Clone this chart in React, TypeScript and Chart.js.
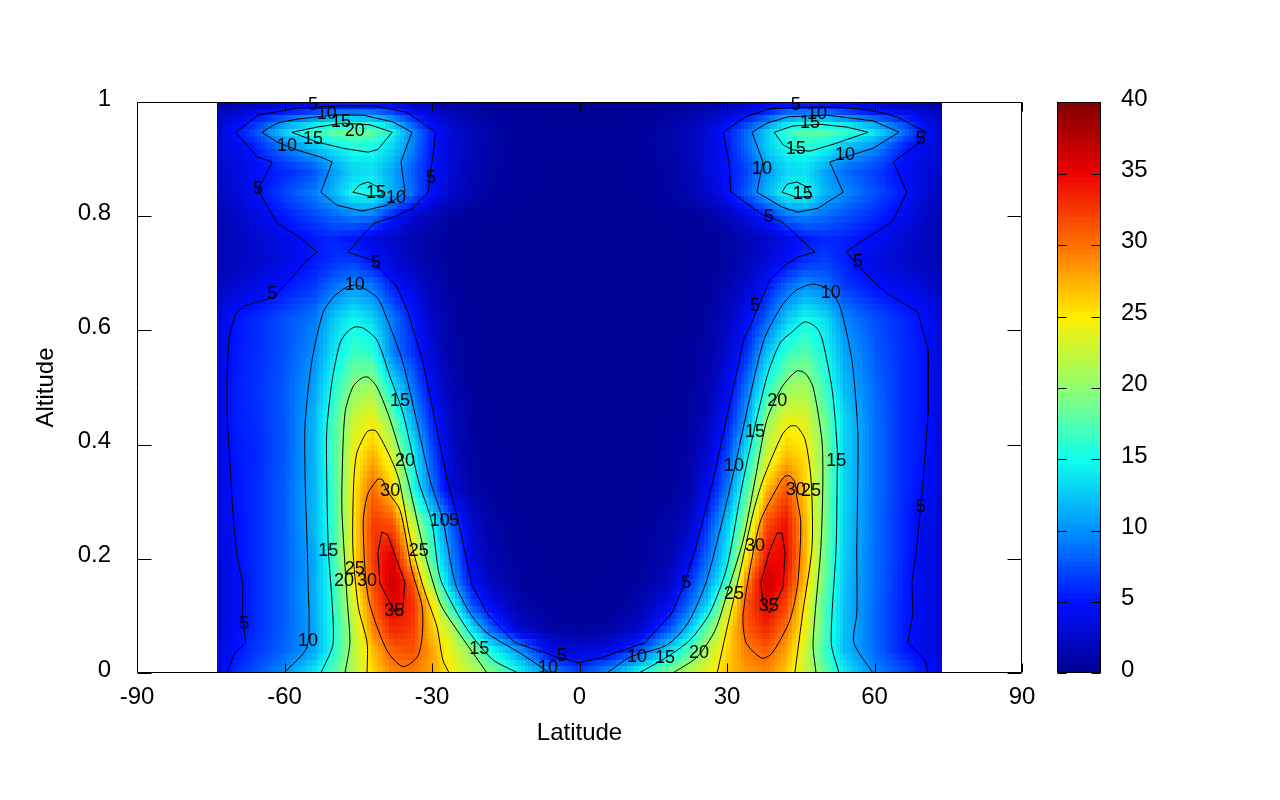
import React, { useEffect, useRef } from "react";
import { Chart, registerables } from "chart.js";

Chart.register(...registerables);

const FONT = "'Liberation Sans', Arial, sans-serif";

// Heatmap table: one row of values for each altitude, one value for each latitude
const latitudes = [-74, -70, -66, -60, -54, -50, -46, -42, -38, -34, -30, -26, -22, -18, -12, -6, 0, 6, 12, 18, 22, 26, 30, 34, 38, 42, 46, 50, 54, 60, 66, 70, 74];
const altitudes = [0, 0.04, 0.08, 0.12, 0.16, 0.2, 0.26, 0.32, 0.38, 0.44, 0.5, 0.56, 0.62, 0.68, 0.72, 0.76, 0.8, 0.84, 0.88, 0.92, 0.95, 0.98, 1];

const alt000 = [3.5, 6, 7.5, 10, 14, 17.5, 21.5, 26, 29, 29.5, 28, 24.5, 22, 19.5, 14.5, 10, 7, 10.3, 15, 19.3, 21.5, 24, 26.5, 28.5, 29, 26.5, 22.5, 18, 14, 9.8, 7.5, 5.5, 3.5];
const alt004 = [3, 5, 6.5, 8.3, 11, 15.5, 21.5, 27, 31, 31.5, 28, 23.5, 20, 15, 10, 3.8, 3, 3.8, 7, 13, 17, 21.5, 26, 29.5, 31, 28, 22.5, 16.5, 12, 8.5, 5.5, 4, 3];
const alt008 = [3, 4.5, 6, 8, 11, 15.5, 21.5, 29.5, 33.5, 32.5, 26.5, 21.5, 13.5, 7.6, 2.3, 0.8, 0.5, 0.8, 2.2, 7, 11.5, 18, 25, 31, 33.5, 30, 24, 17, 12, 8.5, 5.5, 4, 3];
const alt012 = [3, 4.3, 6, 8, 11.2, 15.8, 23, 30.5, 35.5, 33, 25.5, 15.5, 7.5, 4, 1, 0.4, 0.3, 0.4, 1, 4, 8, 12.8, 22, 31.5, 35.2, 32, 24.5, 17, 12, 8.5, 5.5, 4, 3];
const alt016 = [3, 4.3, 6, 8, 11.2, 16, 24.5, 31.5, 37, 31.5, 20, 11, 5, 2, 0.6, 0.3, 0.2, 0.3, 0.7, 2, 6, 10.3, 16, 29, 37, 34, 26.5, 18, 12.2, 8.7, 5.5, 4, 3];
const alt020 = [3, 4.8, 6, 8, 11, 16.5, 25, 32.5, 36, 26.5, 17, 9.6, 3.5, 1.3, 0.4, 0.2, 0.2, 0.2, 0.4, 1.3, 3.8, 8.5, 14, 25.5, 34.5, 35, 27, 18.3, 12.5, 8.7, 5.8, 4, 3];
const alt026 = [3, 4.9, 6, 8, 11.7, 16.5, 25, 32.5, 31.5, 22.5, 15, 8, 2.8, 1, 0.3, 0.2, 0.2, 0.2, 0.3, 1, 2, 6.5, 12.5, 20.5, 31.5, 34.5, 27, 18.8, 12.8, 8.7, 5.8, 4, 3];
const alt032 = [3, 5.2, 6, 8, 11.6, 16.6, 24.8, 30.6, 26, 15.8, 9, 3, 1, 0.5, 0.2, 0.1, 0.1, 0.1, 0.2, 0.5, 1, 4, 9, 17, 27, 31.5, 26, 18.8, 13, 8.8, 6, 4.8, 3];
const alt038 = [3.2, 5.3, 5.8, 7.8, 11.5, 17, 24.2, 27.5, 23, 15, 7.5, 2.5, 0.8, 0.4, 0.2, 0.1, 0.1, 0.1, 0.2, 0.4, 0.8, 2.8, 7, 14.2, 22.5, 27, 25.5, 19, 13, 8.8, 6, 5.1, 3];
const alt044 = [3.3, 5.5, 6, 7.8, 11.5, 17, 22.5, 24.8, 19, 11.5, 5.8, 2, 0.7, 0.3, 0.1, 0.1, 0.1, 0.1, 0.1, 0.3, 0.7, 1.8, 5.3, 10.7, 20, 24.3, 23.5, 18.5, 13, 8.8, 6, 5.2, 3.2];
const alt050 = [3.3, 5.5, 6.2, 7.8, 10.8, 15.5, 20, 20.7, 14, 9, 4.2, 1.5, 0.5, 0.2, 0.1, 0.1, 0.1, 0.1, 0.1, 0.2, 0.5, 1.3, 3.8, 8.8, 15.5, 20.3, 21, 16.5, 11.8, 8.5, 6, 5.2, 3.2];
const alt056 = [3, 5.4, 6, 7.5, 10, 13.8, 16.8, 16.2, 9.3, 6.5, 3, 1, 0.4, 0.2, 0.1, 0.1, 0.1, 0.1, 0.1, 0.2, 0.4, 1, 2.8, 6.3, 12, 16.5, 17.7, 15, 11, 8, 6, 5.2, 3];
const alt062 = [3, 5.1, 6, 7.5, 9, 12.5, 14.8, 13, 9, 5.5, 2.3, 0.8, 0.3, 0.1, 0.1, 0.1, 0.1, 0.1, 0.1, 0.1, 0.3, 0.7, 2, 4.5, 8, 12.5, 15, 13.5, 9.7, 7.5, 6, 4.8, 3];
const alt068 = [2, 2.8, 3.5, 5, 6.5, 8.5, 10, 8.8, 5.3, 3.3, 1.5, 0.6, 0.2, 0.1, 0.1, 0.1, 0.1, 0.1, 0.1, 0.1, 0.2, 0.5, 1.3, 2.5, 4.9, 8, 10, 8.8, 6.5, 4.9, 3.7, 3, 2];
const alt072 = [1.5, 2, 2.5, 3.6, 5.3, 6.3, 6.8, 5, 3.2, 2, 1, 0.4, 0.2, 0.1, 0.1, 0.1, 0.1, 0.1, 0.1, 0.1, 0.2, 0.4, 0.8, 1.8, 3.2, 4.7, 6.3, 6.8, 5.6, 3.6, 2.6, 2, 1.5];
const alt076 = [1.5, 2, 2.8, 3.8, 5.3, 5.8, 5.1, 3.6, 2.5, 1.5, 0.9, 0.5, 0.3, 0.2, 0.1, 0.1, 0.1, 0.1, 0.1, 0.2, 0.3, 0.5, 0.8, 1.5, 2.5, 3.8, 5.3, 6, 5.6, 4.5, 3, 2, 1.5];
const alt080 = [1.5, 2.3, 3.5, 5.5, 7, 8.3, 9.3, 9, 5.4, 3, 1.5, 0.8, 0.4, 0.3, 0.2, 0.1, 0.1, 0.1, 0.2, 0.3, 0.4, 0.8, 1.8, 3.5, 5.5, 8.7, 9.6, 8.5, 7.5, 6, 4, 2.5, 1.5];
const alt084 = [2, 3, 4.8, 7, 9.3, 11.7, 15, 15.3, 11.5, 8.5, 4.7, 2.5, 1.3, 0.7, 0.3, 0.2, 0.2, 0.2, 0.3, 0.7, 1.3, 2.5, 4.7, 8, 11.5, 15, 15.2, 11.5, 9.8, 7.5, 5.2, 3.2, 2];
const alt088 = [2.5, 3.2, 4.5, 5.8, 7.5, 10.5, 13, 13.5, 11, 8, 5, 3, 1.5, 0.8, 0.4, 0.2, 0.2, 0.2, 0.4, 0.8, 1.5, 3, 5, 7, 10.3, 13, 13.5, 10.8, 8.5, 6.8, 4.5, 3.2, 2.5];
const alt092 = [2.8, 4, 5.5, 9, 12, 14, 15.5, 15.2, 13, 9.5, 5.2, 3, 1.7, 1, 0.5, 0.3, 0.3, 0.3, 0.5, 1, 1.7, 3, 5.1, 8.5, 12.5, 15, 15.8, 14.8, 12, 9.9, 5.5, 4, 2.8];
const alt095 = [2.8, 5, 7.5, 13, 17, 18.5, 19, 18.5, 15, 9.8, 5.5, 3, 1.7, 1, 0.5, 0.3, 0.3, 0.3, 0.5, 1, 1.7, 3, 5.5, 8.5, 12.5, 16.5, 18, 18, 17, 14, 9, 5, 2.8];
const alt098 = [1.8, 3, 4.3, 5.8, 7.5, 9.5, 9.8, 9.5, 7.5, 4.8, 3, 1.8, 1, 0.6, 0.3, 0.2, 0.2, 0.2, 0.3, 0.6, 1, 1.8, 3, 4.5, 6, 9, 9.8, 9.5, 7.5, 5.5, 4.5, 3.2, 1.8];
const alt100 = [0.8, 1, 1.5, 2.5, 3.3, 3.6, 3.6, 3.6, 3, 2.2, 1.3, 0.8, 0.5, 0.3, 0.2, 0.1, 0.1, 0.1, 0.2, 0.3, 0.5, 0.8, 1.3, 2.2, 3, 3.6, 3.6, 3.6, 3.3, 2.5, 1.5, 1, 0.8];

const valueRows = [alt000, alt004, alt008, alt012, alt016, alt020, alt026, alt032, alt038, alt044, alt050, alt056, alt062, alt068, alt072, alt076, alt080, alt084, alt088, alt092, alt095, alt098, alt100];

// Contour polylines as [latitude, altitude]
const contour5 = [[-71.8, 0], [-70.1, 0.035], [-67.9, 0.053], [-68.5, 0.102], [-68.5, 0.158], [-69.7, 0.207], [-70.5, 0.28], [-70.9, 0.338], [-71.7, 0.455], [-71.7, 0.518], [-71.3, 0.588], [-69.9, 0.63], [-68.2, 0.643], [-62.3, 0.658], [-58.9, 0.688], [-55.8, 0.72], [-53.4, 0.737], [-56.9, 0.763], [-61.5, 0.788], [-65.4, 0.846], [-62.5, 0.895], [-65.6, 0.904], [-69.9, 0.947], [-65.4, 0.977], [-57.5, 0.989], [-49.3, 0.993], [-41.6, 0.993], [-35.1, 0.982], [-29.2, 0.947], [-30.8, 0.842], [-33.9, 0.814], [-37.9, 0.798], [-41.8, 0.788], [-47.1, 0.737], [-42.2, 0.723], [-37.1, 0.676], [-34.9, 0.632], [-31.8, 0.543], [-26.9, 0.338], [-24.7, 0.268], [-21.9, 0.154], [-18.6, 0.102], [-13.1, 0.053], [-4.6, 0.028], [-0.3, 0.018], [4.2, 0.026], [13.3, 0.053], [18.8, 0.105], [21.1, 0.151], [23.5, 0.215], [27.2, 0.338], [33.3, 0.58], [38.7, 0.688], [41.4, 0.711], [44.2, 0.728], [47.9, 0.737], [41.2, 0.79], [37.3, 0.802], [30.8, 0.842], [30.4, 0.895], [29.2, 0.947], [33.7, 0.974], [38.7, 0.988], [44.2, 0.991], [52.4, 0.991], [59.1, 0.986], [64.6, 0.974], [70.5, 0.947], [68.6, 0.925], [63.8, 0.895], [66.6, 0.842], [63.6, 0.79], [57.7, 0.758], [54.2, 0.737], [59.5, 0.688], [62.5, 0.665], [68.8, 0.632], [70.9, 0.566], [70.9, 0.455], [69.9, 0.338], [68.6, 0.221], [67.6, 0.158], [67.8, 0.105], [66.8, 0.053], [70.3, 0.023], [70.9, 0]];
const contour10Left = [[-60.1, 0], [-55.4, 0.046], [-55.2, 0.158], [-55.8, 0.338], [-55.8, 0.438], [-54.4, 0.548], [-52.2, 0.63], [-50.1, 0.658], [-47.3, 0.676], [-45.2, 0.679], [-41.2, 0.658], [-39.6, 0.63], [-35.9, 0.543], [-30.4, 0.338], [-27.8, 0.268], [-25.3, 0.158], [-22.3, 0.105], [-18.8, 0.07], [-12.1, 0.035], [-6, 0]];
const contour10Right = [[5.6, 0], [10.3, 0.028], [17.8, 0.049], [22.1, 0.088], [25.9, 0.163], [31, 0.338], [37.3, 0.578], [41.2, 0.644], [44.2, 0.671], [47.5, 0.681], [50.9, 0.671], [53, 0.641], [55.4, 0.548], [56.6, 0.425], [56.6, 0.338], [56.4, 0.221], [56.4, 0.105], [55.8, 0.053], [59.7, 0]];
const contour10TopLeft = [[-64.6, 0.947], [-61.5, 0.93], [-57.5, 0.916], [-52.8, 0.904], [-50.3, 0.895], [-52.6, 0.842], [-49.3, 0.819], [-44.2, 0.809], [-39.2, 0.819], [-35.5, 0.842], [-36.3, 0.895], [-34.1, 0.947], [-37.9, 0.965], [-44, 0.977], [-50.1, 0.977], [-57.5, 0.97], [-61.5, 0.963], [-64.6, 0.947]];
const contour10TopRight = [[35.1, 0.947], [37.3, 0.895], [36.1, 0.842], [41.2, 0.816], [44.4, 0.807], [48.5, 0.814], [53.6, 0.842], [50.9, 0.895], [59.7, 0.919], [65, 0.947], [59.7, 0.967], [50.3, 0.977], [42.4, 0.974], [38.1, 0.963], [35.1, 0.947]];
const contour15Left = [[-52.6, 0], [-50.1, 0.053], [-51.1, 0.221], [-51.4, 0.338], [-51.4, 0.425], [-50.3, 0.513], [-48.7, 0.578], [-47.3, 0.597], [-45.7, 0.606], [-44, 0.604], [-41.2, 0.583], [-38.5, 0.518], [-35.9, 0.455], [-32.8, 0.338], [-30, 0.263], [-28.4, 0.168], [-24.9, 0.105], [-21.7, 0.063], [-17.6, 0.023], [-12.5, 0]];
const contour15Right = [[12.1, 0], [17.8, 0.028], [22.5, 0.058], [26.5, 0.105], [30, 0.186], [33.3, 0.338], [38.1, 0.518], [40.8, 0.578], [43.2, 0.597], [45.9, 0.615], [48.3, 0.604], [49.5, 0.58], [51.4, 0.495], [52.4, 0.396], [52.4, 0.338], [52.2, 0.221], [51.2, 0.053], [52.8, 0]];
const contour15TopLeftA = [[-58.5, 0.947], [-53.4, 0.93], [-48.1, 0.919], [-43, 0.912], [-41, 0.917], [-38.1, 0.947], [-42.6, 0.96], [-48.1, 0.963], [-53.4, 0.956], [-58.5, 0.947]];
const contour15TopLeftB = [[-46.1, 0.842], [-44.7, 0.855], [-43, 0.86], [-41, 0.851], [-39.8, 0.837], [-42.6, 0.835], [-46.1, 0.842]];
const contour15TopRightA = [[39.6, 0.947], [41.4, 0.925], [43.4, 0.916], [46.9, 0.914], [51.6, 0.926], [58.7, 0.947], [54.4, 0.956], [48.9, 0.961], [43.4, 0.958], [39.6, 0.947]];
const contour15TopRightB = [[41.2, 0.842], [42.2, 0.856], [44.2, 0.86], [46.3, 0.851], [47.3, 0.835], [44.2, 0.833], [41.2, 0.842]];
const contour20Left = [[-47.7, 0], [-46.7, 0.053], [-47.3, 0.133], [-48.3, 0.28], [-48.3, 0.338], [-47.7, 0.455], [-46.1, 0.501], [-44.2, 0.517], [-43, 0.518], [-41.2, 0.501], [-38.5, 0.443], [-34.9, 0.338], [-31.8, 0.221], [-28.4, 0.123], [-24.9, 0.075], [-18.8, 0]];
const contour20Right = [[19, 0], [23.9, 0.028], [27.6, 0.075], [30.2, 0.145], [33.3, 0.233], [35.7, 0.338], [38.1, 0.443], [41.2, 0.501], [44.2, 0.529], [45.9, 0.525], [47.5, 0.501], [49.3, 0.408], [49.5, 0.338], [49.1, 0.221], [47.5, 0.053], [48.1, 0]];
const contour25Left = [[-43.2, 0], [-43.2, 0.053], [-45, 0.116], [-46.1, 0.221], [-45.9, 0.338], [-45.3, 0.385], [-44, 0.411], [-43, 0.424], [-41.4, 0.424], [-38.5, 0.378], [-36.7, 0.338], [-34.5, 0.238], [-31.8, 0.151], [-29, 0.081], [-27.8, 0.023], [-26.5, 0]];
const contour25Right = [[28, 0], [29.6, 0.063], [31, 0.116], [32.6, 0.175], [35.3, 0.28], [37.3, 0.338], [41.2, 0.417], [42.8, 0.432], [44.2, 0.432], [45.9, 0.408], [47.1, 0.338], [47.3, 0.221], [45.4, 0.105], [43.8, 0]];
const contour30Left = [[-41, 0.34], [-43, 0.315], [-44, 0.263], [-43, 0.133], [-39.2, 0.04], [-35.9, 0.011], [-33, 0.028], [-32, 0.063], [-32, 0.116], [-34.1, 0.18], [-36.5, 0.285], [-39.2, 0.32], [-40, 0.338], [-41, 0.34]];
const contour30Right = [[41.8, 0.345], [40.8, 0.334], [36.7, 0.263], [33.3, 0.105], [33.9, 0.053], [37.1, 0.026], [39.2, 0.035], [42.8, 0.093], [44.4, 0.158], [45, 0.263], [44.2, 0.308], [43.8, 0.334], [42.8, 0.345], [41.8, 0.345]];
const contour35Left = [[-40.2, 0.247], [-39, 0.242], [-35.5, 0.158], [-35.9, 0.114], [-37.5, 0.107], [-39.6, 0.14], [-40.6, 0.158], [-41, 0.21], [-40.2, 0.247]];
const contour35Right = [[40.2, 0.245], [41.2, 0.245], [41.8, 0.21], [41.4, 0.151], [40.2, 0.128], [38.7, 0.105], [37.3, 0.123], [36.9, 0.158], [38.7, 0.215], [40.2, 0.245]];

const sharpContours = [contour5, contour10TopLeft, contour10TopRight, contour15TopLeftA, contour15TopLeftB, contour15TopRightA, contour15TopRightB, contour35Left, contour35Right];
const roundContours = [contour10Left, contour10Right, contour15Left, contour15Right, contour20Left, contour20Right, contour25Left, contour25Right, contour30Left, contour30Right];

// Contour labels as [text, latitude, altitude]
const contourLabels: [string, number, number][] = [
  ["5", -54.2, 0.996], ["10", -51.4, 0.981], ["15", -48.5, 0.967], ["20", -45.7, 0.951], ["15", -54.2, 0.937], ["10", -59.5, 0.925], ["5", -65.4, 0.849], ["15", -41.4, 0.842], ["10", -37.3, 0.834], ["5", -30.2, 0.869], ["5", -41.4, 0.72], ["10", -45.7, 0.681], ["5", -62.5, 0.665], ["15", -36.5, 0.478], ["20", -35.5, 0.373], ["30", -38.5, 0.32], ["10", -28.4, 0.268], ["5", -25.5, 0.268], ["15", -51.1, 0.215], ["25", -32.7, 0.215], ["25", -45.7, 0.184], ["20", -47.9, 0.163], ["30", -43.2, 0.163], ["35", -37.7, 0.11], ["5", -68.2, 0.088], ["10", -55.2, 0.058], ["15", -20.4, 0.044], ["5", -3.6, 0.032], ["10", -6.4, 0.011],
  ["10", 11.7, 0.03], ["15", 17.4, 0.028], ["20", 24.3, 0.037], ["5", 21.7, 0.159], ["25", 31.4, 0.14], ["35", 38.5, 0.119], ["30", 35.7, 0.224], ["10", 31.4, 0.364], ["15", 35.7, 0.424], ["20", 40.2, 0.478], ["5", 35.7, 0.644], ["10", 51.1, 0.667], ["5", 56.6, 0.721], ["5", 38.5, 0.8], ["10", 37.1, 0.884], ["15", 44, 0.919], ["15", 45.4, 0.841], ["15", 46.9, 0.965], ["10", 48.3, 0.981], ["5", 44, 0.996], ["10", 54, 0.909], ["5", 69.4, 0.937], ["30", 44, 0.322], ["25", 47.1, 0.32], ["15", 52.2, 0.373], ["5", 69.4, 0.292],
];

// Palette stops: colour-bar fraction 0..8 in equal steps
const palette = [[0, 0, 144], [0, 15, 255], [0, 144, 255], [15, 255, 238], [144, 255, 112], [255, 238, 0], [255, 112, 0], [238, 0, 0], [127, 0, 0]];
const colorMax = 40;

function colorOf(v: number) {
  const t = Math.min(0.9999, Math.max(0, v / colorMax)) * (palette.length - 1);
  const i = Math.floor(t);
  const f = t - i;
  const a = palette[i];
  const b = palette[i + 1];
  return `rgb(${Math.round(a[0] + (b[0] - a[0]) * f)},${Math.round(a[1] + (b[1] - a[1]) * f)},${Math.round(a[2] + (b[2] - a[2]) * f)})`;
}

function bracket(list: number[], v: number): [number, number] {
  let i = 0;
  while (i < list.length - 2 && v > list[i + 1]) i++;
  const f = Math.max(0, Math.min(1, (v - list[i]) / (list[i + 1] - list[i])));
  return [i, f];
}

function sample(lat: number, alt: number) {
  const [i, fx] = bracket(latitudes, lat);
  const [j, fy] = bracket(altitudes, alt);
  const r0 = valueRows[j];
  const r1 = valueRows[j + 1];
  const v0 = r0[i] + (r0[i + 1] - r0[i]) * fx;
  const v1 = r1[i] + (r1[i + 1] - r1[i]) * fx;
  return v0 + (v1 - v0) * fy;
}

const heatmapPlugin = {
  id: "heatmap",
  beforeDatasetsDraw(chart: any) {
    const { ctx, scales } = chart;
    const { x, y, cb } = scales;
    const latEdge = 73.75;
    const nx = 198;
    const ny = 85;
    ctx.save();
    for (let j = 0; j < ny; j++) {
      const a0 = j / ny;
      const a1 = (j + 1) / ny;
      const py0 = Math.round(y.getPixelForValue(a1));
      const py1 = Math.round(y.getPixelForValue(a0));
      for (let i = 0; i < nx; i++) {
        const l0 = -latEdge + (2 * latEdge * i) / nx;
        const l1 = -latEdge + (2 * latEdge * (i + 1)) / nx;
        const px0 = Math.round(x.getPixelForValue(l0));
        const px1 = Math.round(x.getPixelForValue(l1));
        ctx.fillStyle = colorOf(sample((l0 + l1) / 2, (a0 + a1) / 2));
        ctx.fillRect(px0, py0, px1 - px0, py1 - py0);
      }
    }
    // colour bar
    const barLeft = 1057;
    const barWidth = 44;
    for (let k = 0; k < 128; k++) {
      const v0 = (k / 128) * colorMax;
      const v1 = ((k + 1) / 128) * colorMax;
      const top = Math.floor(cb.getPixelForValue(v1));
      const bottom = Math.ceil(cb.getPixelForValue(v0));
      ctx.fillStyle = colorOf((v0 + v1) / 2);
      ctx.fillRect(barLeft, top, barWidth, bottom - top);
    }
    ctx.restore();
  },
  afterDatasetsDraw(chart: any) {
    const { ctx, scales, chartArea } = chart;
    const { x, y, cb } = scales;
    ctx.save();
    ctx.strokeStyle = "#000";
    ctx.lineWidth = 1;
    const L = chartArea.left + 0.5;
    const R = chartArea.right - 0.5;
    const T = chartArea.top + 0.5;
    const B = chartArea.bottom - 0.5;
    ctx.beginPath();
    ctx.rect(L, T, R - L, B - T);
    for (const t of x.ticks) {
      const p = Math.round(x.getPixelForValue(t.value)) + 0.5;
      ctx.moveTo(p, B);
      ctx.lineTo(p, B - 9);
      ctx.moveTo(p, T);
      ctx.lineTo(p, T + 9);
    }
    for (const t of y.ticks) {
      const p = Math.round(y.getPixelForValue(t.value)) + 0.5;
      ctx.moveTo(L, p);
      ctx.lineTo(L + 14, p);
      ctx.moveTo(R, p);
      ctx.lineTo(R - 14, p);
    }
    const bl = 1057.5;
    const br = 1100.5;
    ctx.rect(bl, T, br - bl, B - T);
    for (const t of cb.ticks) {
      const p = Math.ceil(cb.getPixelForValue(t.value)) + 0.5;
      ctx.moveTo(bl, p);
      ctx.lineTo(bl + 9, p);
      ctx.moveTo(br, p);
      ctx.lineTo(br - 9, p);
    }
    ctx.stroke();
    ctx.fillStyle = "#000";
    ctx.font = `18px ${FONT}`;
    ctx.textAlign = "center";
    ctx.textBaseline = "middle";
    for (const [text, lat, alt] of contourLabels) {
      ctx.fillText(text, x.getPixelForValue(lat), y.getPixelForValue(alt) + 1);
    }
    ctx.restore();
  },
};

function contourDataset(c: number[][], tension: number, i: number) {
  return {
    label: `contour ${i}`,
    data: c.map(([lat, alt]) => ({ x: lat, y: alt })),
    showLine: true,
    borderColor: "#000",
    borderWidth: 1,
    pointRadius: 0,
    tension,
    xAxisID: "x",
    yAxisID: "y",
  };
}

export default function App() {
  const ref = useRef<HTMLCanvasElement>(null);
  useEffect(() => {
    const tickFont = { family: FONT, size: 24 };
    const chart = new Chart(ref.current as HTMLCanvasElement, {
      type: "scatter",
      data: {
        datasets: [
          ...sharpContours.map((c, i) => contourDataset(c, 0, i)),
          ...roundContours.map((c, i) => contourDataset(c, 0.25, i + 100)),
        ],
      },
      options: {
        animation: false,
        responsive: false,
        devicePixelRatio: 1,
        layout: { padding: { top: 102, left: 0, right: 0, bottom: 0 } },
        plugins: { legend: { display: false }, tooltip: { enabled: false }, title: { display: false } },
        scales: {
          x: {
            type: "linear",
            position: "bottom",
            min: -90,
            max: 90,
            grid: { display: false },
            border: { display: false },
            ticks: { stepSize: 30, color: "#000", font: tickFont, padding: 2, maxRotation: 0, autoSkip: false, callback: (v: any) => String(v) },
            title: { display: true, text: "Latitude", color: "#000", font: tickFont, padding: { top: 0, bottom: 52 } },
            afterFit: (s: any) => { s.height = 127; s.paddingLeft = 0; s.paddingRight = 0; },
          },
          y: {
            type: "linear",
            position: "left",
            min: 0,
            max: 1,
            grid: { display: false },
            border: { display: false },
            ticks: { stepSize: 0.2, color: "#000", font: tickFont, padding: 18, labelOffset: -3, autoSkip: false, callback: (v: any) => String(Math.round(v * 10) / 10) },
            title: { display: true, text: "Altitude", color: "#000", font: tickFont, padding: { top: 32, bottom: 0 } },
            afterFit: (s: any) => { s.width = 137; s.paddingTop = 0; s.paddingBottom = 0; },
          },
          cb: {
            type: "linear",
            position: "right",
            min: 0,
            max: colorMax,
            grid: { display: false },
            border: { display: false },
            ticks: { stepSize: 5, color: "#000", font: tickFont, padding: 91, labelOffset: -3, autoSkip: false, callback: (v: any) => String(v) },
            afterFit: (s: any) => { s.width = 258; s.paddingTop = 0; s.paddingBottom = 0; },
          },
        },
      },
      plugins: [heatmapPlugin],
    } as any);
    return () => chart.destroy();
  }, []);
  return <canvas ref={ref} width={1280} height={800} style={{ position: "absolute", left: 0, top: 0, display: "block" }} />;
}
